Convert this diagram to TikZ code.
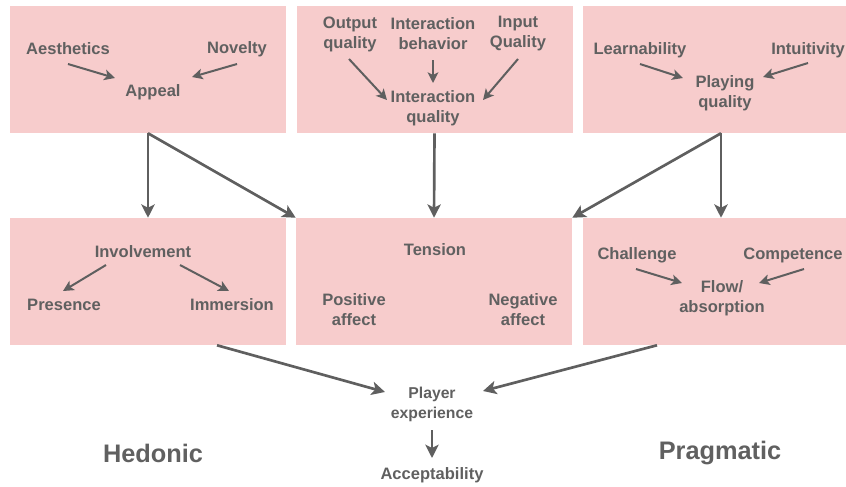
\documentclass[tikz,border=0pt]{standalone}
\usepackage{fontspec}
\setmainfont{Liberation Sans}
\usetikzlibrary{arrows.meta}

\definecolor{boxpink}{RGB}{247,204,204}
\definecolor{txtgray}{RGB}{96,96,96}
\definecolor{arrgray}{RGB}{95,95,95}

\tikzset{
  box/.style={fill=boxpink, minimum width=207pt, minimum height=95.25pt, inner sep=0pt},
  lbl/.style={text=txtgray, font=\bfseries\fontsize{12.4}{15}\selectfont, align=center, inner sep=2pt},
  small/.style={lbl, font=\bfseries\fontsize{11.8}{15}\selectfont},
  side/.style={lbl, font=\bfseries\fontsize{19}{22}\selectfont},
  arr/.style={draw=arrgray, line width=1.5pt, -{Stealth[length=8pt, width=8pt, inset=2pt]}},
  bigarr/.style={draw=arrgray, line width=2pt, -{Stealth[length=10pt, width=10pt, inset=2.5pt]}}
}

\begin{document}
\begin{tikzpicture}[x=0.75pt, y=-0.75pt]

\useasboundingbox (0,0) rectangle (846,486);
\clip (0,0) rectangle (846,486);


\node[box] (appealbox)   at (148,69.5)  {};
\node[box] (iqbox)       at (434.5,69.5) {};
\node[box] (playbox)     at (721,69.5)  {};

\node[box] (involvebox)  at (148,281.5) {};
\node[box] (tensionbox)  at (434,281.5) {};
\node[box] (flowbox)     at (721,281.5) {};



\node[lbl] (aes)  at (68,49)  {Aesthetics};
\node[lbl] (nov)  at (237,49) {Novelty};
\node[lbl] (app)  at (153,92) {Appeal};

\draw[arr] ([shift={(0,15)}]aes.center) -- ([shift={(-38,-14)}]app.center);
\draw[arr] ([shift={(0,15)}]nov.center) -- ([shift={(39,-15)}]app.center);


\node[lbl] (outq) at (350,34)  {Output\\quality};
\node[lbl] (intb) at (433,34)  {Interaction\\behavior};
\node[lbl] (inq)  at (518,34)  {Input\\Quality};
\node[lbl] (intq) at (433,108) {Interaction\\quality};

\draw[arr] ([shift={(-1,25)}]outq.center) -- ([shift={(-46,-8)}]intq.center);
\draw[arr] ([shift={(0,26)}]intb.center)  -- ([shift={(0,-25)}]intq.center);
\draw[arr] ([shift={(0,25)}]inq.center)   -- ([shift={(50,-8)}]intq.center);


\node[lbl] (lea)  at (640,50) {Learnability};
\node[lbl] (intu) at (808,50) {Intuitivity};
\node[lbl] (play) at (725,93) {Playing\\quality};

\draw[arr] ([shift={(0,14)}]lea.center)  -- ([shift={(-42,-15)}]play.center);
\draw[arr] ([shift={(0,13)}]intu.center) -- ([shift={(38,-16)}]play.center);



\node[lbl] (inv)  at (143,252) {Involvement};
\node[lbl] (pres) at (64,305)  {Presence};
\node[lbl] (imm)  at (232,305) {Immersion};

\draw[arr] ([shift={(-37,13)}]inv.center) -- ([shift={(-1,-14)}]pres.center);
\draw[arr] ([shift={(37,13)}]inv.center)  -- ([shift={(-3,-14)}]imm.center);


\node[lbl] (ten) at (435,250)   {Tension};
\node[lbl] (pos) at (354,309.5) {Positive\\affect};
\node[lbl] (neg) at (523,309.5) {Negative\\affect};


\node[lbl] (cha)  at (637,255) {Challenge};
\node[lbl] (com)  at (793,255) {Competence};
\node[lbl] (flow) at (722,298) {Flow/\\absorption};

\draw[arr] ([shift={(-1,14)}]cha.center) -- ([shift={(-40,-15)}]flow.center);
\draw[arr] ([shift={(11,14)}]com.center) -- ([shift={(37,-15)}]flow.center);



\draw[bigarr] (appealbox.south) -- (involvebox.north);
\draw[bigarr] (appealbox.south) -- (tensionbox.north west);
\draw[bigarr] (iqbox.south)     -- (tensionbox.north);
\draw[bigarr] (playbox.south)   -- (flowbox.north);
\draw[bigarr] (playbox.south)   -- (tensionbox.north east);



\node[small] (pe)  at (432,404) {Player\\experience};
\node[lbl]   (acc) at (432,475) {Acceptability};

\draw[bigarr] ([shift={(69,0)}]involvebox.south) -- ([shift={(-47,-12)}]pe.center);
\draw[bigarr] ([shift={(-64,0)}]flowbox.south)   -- ([shift={(51,-13)}]pe.center);
\draw[bigarr] ([shift={(0,26)}]pe.center) -- ([shift={(0,-17)}]acc.center);


\node[side] (hed)  at (153,453) {Hedonic};
\node[side] (prag) at (720,453) {Pragmatic};

\end{tikzpicture}
\end{document}
